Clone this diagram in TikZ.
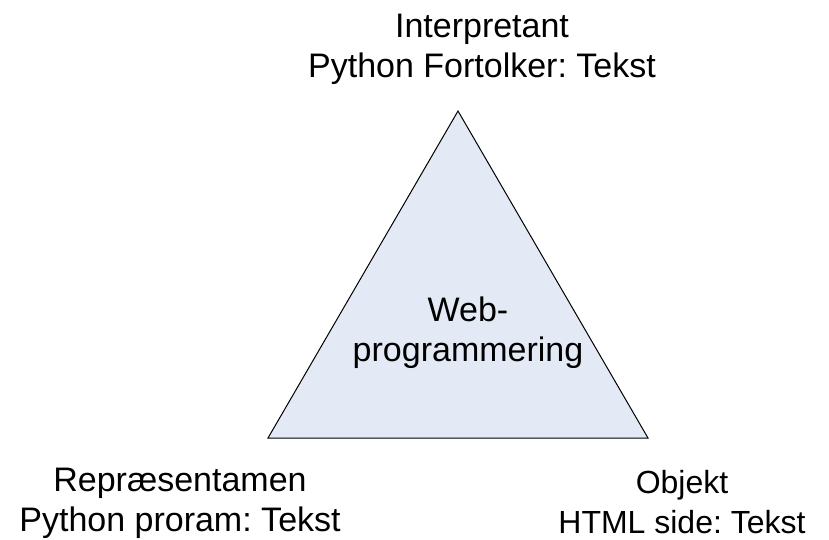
\documentclass[tikz,border=0pt]{standalone}
\usepackage{fontspec}
\setmainfont{Liberation Sans}
\usetikzlibrary{positioning}
\definecolor{trifill}{RGB}{227,234,245}
\frenchspacing

\begin{document}
\begin{tikzpicture}[
  x=1pt, y=1pt,
  corner/.style={
    align=center, inner sep=0pt, font=\fontsize{34}{40}\selectfont
  },
  tri/.style={
    draw=black, line width=1pt, fill=trifill, line join=miter
  }
]
\useasboundingbox (0,0) rectangle (829,539);

% Corners
\coordinate (top) at (458,428);
\coordinate (left) at (268,101);
\coordinate (right) at (648,101);

\draw[tri] (top) -- (left) -- (right) -- cycle;

% Labels
\node[corner] (interp) at (482,490) {Interpretant\\Python Fortolker: Tekst};
\node[corner] (center) at (468,206) {Web-\\programmering};
\node[corner] (repr) at (180,36) {Repræsentamen\\Python proram: Tekst};
\node[corner, font=\fontsize{32}{40}\selectfont] (obj) at (682,37) {Objekt\\HTML side: Tekst};
\end{tikzpicture}
\end{document}
